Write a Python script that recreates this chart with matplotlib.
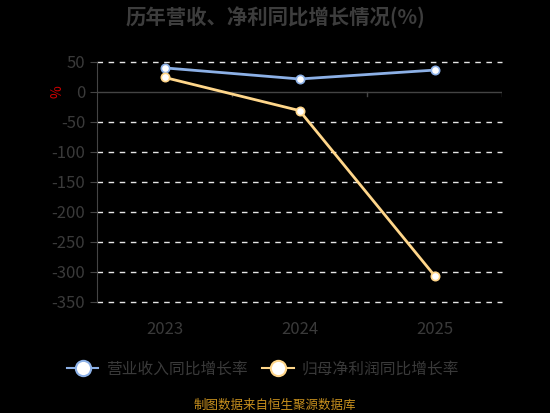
import numpy as np
import matplotlib
matplotlib.use("Agg")
import matplotlib.pyplot as plt
from matplotlib.lines import Line2D

plt.rcParams['font.family'] = ['Noto Sans CJK SC', 'DejaVu Sans']

# data
years = ['2023', '2024', '2025']
revenue_growth = [40.2, 21.7, 36.5]
profit_growth = [24.3, -31.0, -306.0]
yticks = [50, 0, -50, -100, -150, -200, -250, -300, -350]

blue = '#8cb0e6'
gold = '#ffd68a'
txt = '#3a3a3a'

fig = plt.figure(figsize=(5.5, 4.13), dpi=100, facecolor='black')
ax = fig.add_axes([97 / 550, 1 - 302 / 413, 405 / 550, 240 / 413])
ax.set_facecolor('black')

x = np.arange(len(years))
ax.set_xlim(-0.5, len(years) - 0.5)
ax.set_ylim(-350, 50)

# grid lines
for v in yticks:
    if v != 0:
        ax.axhline(v, color='#e6e6e6', lw=1, ls=(0, (4, 4)), zorder=1, clip_on=False)
ax.axhline(0, color='#444444', lw=1, zorder=1)
for b in [0.5, 1.5, 2.5]:
    ax.plot([b, b], [0, -6], color='#444444', lw=1, zorder=1)

ax.plot(x, revenue_growth, color=blue, lw=2, marker='o', ms=6,
        mfc='white', mec=blue, mew=1.2, zorder=3)
ax.plot(x, profit_growth, color=gold, lw=2, marker='o', ms=6,
        mfc='white', mec=gold, mew=1.2, zorder=3)

for s in ['top', 'right', 'bottom']:
    ax.spines[s].set_visible(False)
ax.spines['left'].set_color('#444444')
ax.set_yticks(yticks)
ax.set_yticklabels([str(v) for v in yticks], fontsize=12, color=txt)
ax.tick_params(axis='y', colors='#444444', labelcolor=txt, length=5)
ax.set_xticks(x)
ax.set_xticklabels(years, fontsize=12, color=txt)
ax.tick_params(axis='x', length=0, pad=14)

fig.text(57 / 550, 1 - 92 / 413, '%', color='#cc0000', fontsize=10,
         rotation=90, ha='center', va='center')

fig.text(0.5, 1 - 17 / 413, '历年营收、净利同比增长情况(%)', color='#3d3d3d',
         fontsize=14.7, fontweight='bold', ha='center', va='center')

handles = [
    Line2D([0], [0], color=blue, lw=1.5, marker='o', ms=11, mfc='white', mec=blue, mew=1.5),
    Line2D([0], [0], color=gold, lw=1.5, marker='o', ms=11, mfc='white', mec=gold, mew=1.5),
]
fig.legend(handles, ['营业收入同比增长率', '归母净利润同比增长率'], loc='center',
           bbox_to_anchor=(263 / 550, 1 - 369 / 413), ncol=2, frameon=False,
           fontsize=11.3, labelcolor=txt, handlelength=2.0, columnspacing=0.9,
           handletextpad=0.5)

fig.text(0.5, 1 - 405 / 413, '制图数据来自恒生聚源数据库', color='#c8901e',
         fontsize=9, ha='center', va='center')

fig.savefig('out.png', dpi=100, facecolor='black')
